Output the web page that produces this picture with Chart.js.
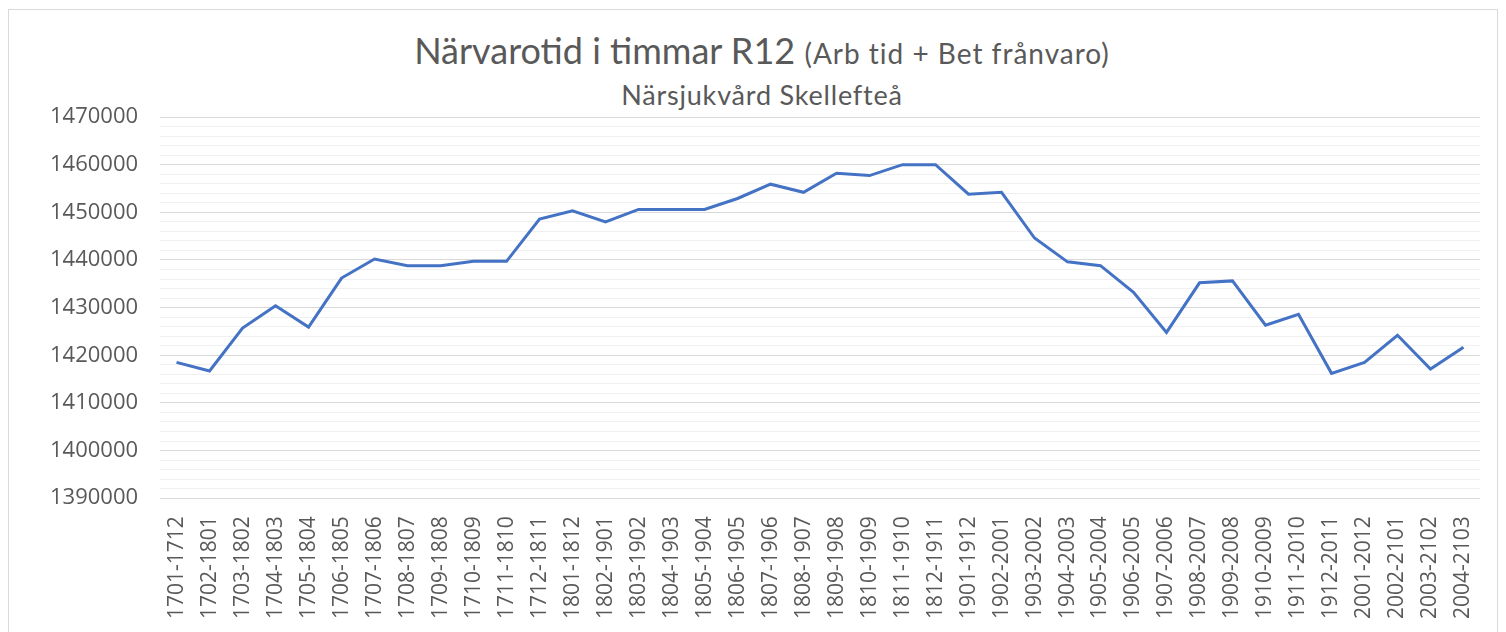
<!DOCTYPE html>
<html>
<head>
<meta charset="utf-8">
<script src="https://cdn.jsdelivr.net/npm/chart.js@4"></script>
<style>
  html, body { margin: 0; padding: 0; background: #fff; }
  #wrap { position: relative; width: 1506px; height: 632px; overflow: hidden; }
  #frame { position: absolute; left: 8px; top: 9px; right: 8px; bottom: -10px; border: 1px solid #d9d9d9; }
  #title, #subtitle { position: absolute; left: 0; width: 1524px; text-align: center; color: #595959; font-family: Lato, "Open Sans", sans-serif; white-space: nowrap; }
  #title { top: 28px; font-size: 36px; }
  #title small { font-size: 28px; letter-spacing: 1px; }
  #subtitle { top: 78px; font-size: 27px; letter-spacing: 0.8px; }
  canvas { position: absolute; left: 0; top: 0; }
</style>
</head>
<body>
<div id="wrap">
  <div id="frame"></div>
  <div id="title">Närvarotid i timmar R12 <small>(Arb tid + Bet frånvaro)</small></div>
  <div id="subtitle">Närsjukvård Skellefteå</div>
  <canvas id="chart" width="1506" height="632"></canvas>
</div>
<script>
// rullande 12 månader
const periods = [
  '1701-1712', '1702-1801', '1703-1802', '1704-1803', '1705-1804', '1706-1805',
  '1707-1806', '1708-1807', '1709-1808', '1710-1809', '1711-1810', '1712-1811',
  '1801-1812', '1802-1901', '1803-1902', '1804-1903', '1805-1904', '1806-1905',
  '1807-1906', '1808-1907', '1809-1908', '1810-1909', '1811-1910', '1812-1911',
  '1901-1912', '1902-2001', '1903-2002', '1904-2003', '1905-2004', '1906-2005',
  '1907-2006', '1908-2007', '1909-2008', '1910-2009', '1911-2010', '1912-2011',
  '2001-2012', '2002-2101', '2003-2102', '2004-2103'
];

const hours = [
  1418500, 1416700, 1425700, 1430400, 1425900, 1436200,
  1440200, 1438800, 1438800, 1439700, 1439700, 1448600,
  1450300, 1448000, 1450600, 1450600, 1450600, 1452900,
  1455900, 1454200, 1458200, 1457700, 1460000, 1460000,
  1453800, 1454200, 1444600, 1439600, 1438800, 1433200,
  1424800, 1435200, 1435600, 1426300, 1428600, 1416200,
  1418500, 1424200, 1417100, 1421700
];

const yMin = 1390000;
const yMax = 1470000;
const majorStep = 10000;
const minorStep = 2000;

const ctx = document.getElementById('chart').getContext('2d');
new Chart(ctx, {
  type: 'line',
  data: {
    labels: periods,
    datasets: [
      {
        label: 'Närvarotid',
        data: hours,
        borderColor: '#4472C4',
        borderWidth: 3,
        pointRadius: 0,
        tension: 0,
        fill: false,
      },
    ],
  },
  options: {
    responsive: false,
    animation: false,
    layout: {
      padding: { top: 117, left: 28, right: 26, bottom: 3 },
    },
    plugins: {
      legend: { display: false },
      tooltip: { enabled: false },
    },
    scales: {
      x: {
        offset: true,
        grid: { display: false },
        border: { display: false },
        ticks: {
          autoSkip: false,
          minRotation: 90,
          maxRotation: 90,
          padding: 10,
          color: '#595959',
          font: { family: '"Open Sans", sans-serif', size: 21 },
        },
      },
      y: {
        min: yMin,
        max: yMax,
        border: { display: false },
        grid: {
          drawTicks: false,
          color: (c) => (c.tick && c.tick.value % majorStep === 0 ? '#d9d9d9' : '#f0f0f0'),
          lineWidth: 1,
        },
        ticks: {
          stepSize: minorStep,
          autoSkip: false,
          padding: 22,
          color: '#595959',
          font: { family: '"Open Sans", sans-serif', size: 22 },
          callback: (v) => (v % majorStep === 0 ? String(v) : ''),
        },
      },
    },
  },
});
</script>
</body>
</html>
